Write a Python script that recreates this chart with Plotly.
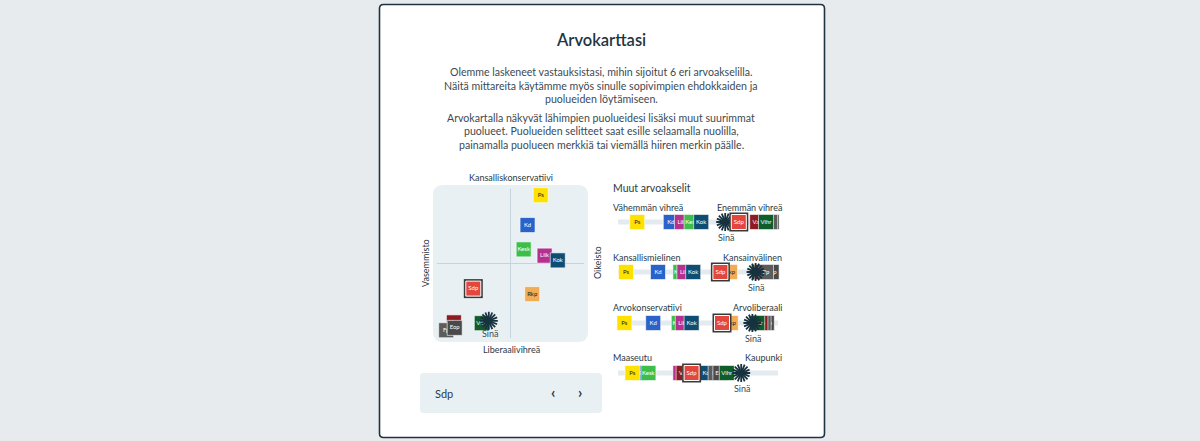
import plotly.graph_objects as go

W, H = 1200, 441
FONT = "Lato"

# ---------------- data ----------------
parties = ["Ps", "Kd", "Kesk", "Liik", "Kok", "Rkp", "Sdp", "Vihr", "Vas", "Eop", "Fp"]
party_colors = {
    "Ps": "#ffe100", "Kd": "#2a62c9", "Kesk": "#3cbf4a", "Liik": "#b5308f",
    "Kok": "#0f4d73", "Rkp": "#f0ad55", "Sdp": "#e2463d", "Vihr": "#0f5e2a",
    "Vas": "#8c1b22", "Eop": "#4a4a4a", "Fp": "#5c5c5c",
}
dark_text = {"Ps", "Rkp"}
selected = "Sdp"

# value map (x: vasemmisto -> oikeisto, y: liberaalivihreä -> kansalliskonservatiivi)
map_x = {"Ps": 0.39, "Kd": 0.22, "Kesk": 0.17, "Liik": 0.44, "Kok": 0.61, "Rkp": 0.28,
         "Sdp": -0.48, "Vihr": -0.37, "Vas": -0.73, "Eop": -0.72, "Fp": -0.83}
map_y = {"Ps": 0.87, "Kd": 0.49, "Kesk": 0.18, "Liik": 0.10, "Kok": 0.04, "Rkp": -0.39,
         "Sdp": -0.32, "Vihr": -0.76, "Vas": -0.75, "Eop": -0.82, "Fp": -0.85}
map_order = ["Ps", "Kd", "Kesk", "Liik", "Kok", "Rkp", "Sdp", "Vas", "Fp", "Eop", "Vihr"]
you_map = (-0.28, -0.73)

slider_left = ["Vähemmän vihreä", "Kansallismielinen", "Arvokonservatiivi", "Maaseutu"]
slider_right = ["Enemmän vihreä", "Kansainvälinen", "Arvoliberaali", "Kaupunki"]
slider_values = [
    {"Ps": 12, "Kd": 33, "Liik": 40, "Kesk": 46, "Kok": 52, "Rkp": 75, "Sdp": 75.5,
     "Vas": 87, "Eop": 96, "Fp": 95, "Vihr": 92.5},
    {"Ps": 5, "Kd": 25, "Kesk": 39, "Liik": 41.5, "Kok": 47, "Rkp": 70, "Sdp": 64,
     "Vihr": 88, "Vas": 90, "Fp": 92.5, "Eop": 96},
    {"Ps": 4, "Kd": 22, "Kesk": 38, "Liik": 40.5, "Kok": 46, "Rkp": 70.5, "Sdp": 65,
     "Vihr": 87, "Vas": 89, "Fp": 91, "Eop": 93},
    {"Ps": 9, "Kd": 14.5, "Kesk": 19, "Liik": 39, "Vas": 41, "Rkp": 45, "Sdp": 46,
     "Kok": 56, "Fp": 61, "Eop": 64, "Vihr": 68},
]
slider_orders = [
    ["Ps", "Kd", "Liik", "Kesk", "Kok", "Rkp", "Sdp", "Vas", "Eop", "Fp", "Vihr"],
    ["Ps", "Kd", "Kesk", "Liik", "Kok", "Rkp", "Sdp", "Vihr", "Vas", "Eop", "Fp"],
    ["Ps", "Kd", "Kesk", "Liik", "Kok", "Rkp", "Sdp", "Eop", "Fp", "Vas", "Vihr"],
    ["Kd", "Ps", "Kesk", "Liik", "Vas", "Rkp", "Sdp", "Kok", "Fp", "Eop", "Vihr"],
]
you_slider = [67, 86, 84, 77]
star_below_sdp = [True, False, False, False]

# ---------------- layout helpers ----------------
def px(x): return x / W
def py(y): return 1 - y / H

def rrect(x0, y0, x1, y1, r):
    pts = [("M", x0 + r, y0), ("L", x1 - r, y0), ("Q", x1, y0, x1, y0 + r),
           ("L", x1, y1 - r), ("Q", x1, y1, x1 - r, y1), ("L", x0 + r, y1),
           ("Q", x0, y1, x0, y1 - r), ("L", x0, y0 + r), ("Q", x0, y0, x0 + r, y0)]
    s = ""
    for p in pts:
        cmd = p[0]
        coords = p[1:]
        parts = []
        for i in range(0, len(coords), 2):
            parts.append(f"{px(coords[i]):.5f},{py(coords[i+1]):.5f}")
        s += cmd + " " + " ".join(parts) + " "
    return s + "Z"

fig = go.Figure()

def badge(name, x, y, xa, ya):
    if name == selected:
        fig.add_trace(go.Scatter(x=[x], y=[y], xaxis=xa, yaxis=ya, mode="markers",
                                 marker=dict(symbol="square", size=19, color="#3a3a3a",
                                             line=dict(width=0)),
                                 hoverinfo="skip", showlegend=False, cliponaxis=False))
    fig.add_trace(go.Scatter(
        x=[x], y=[y], xaxis=xa, yaxis=ya, mode="markers+text", text=[name],
        textposition="middle center",
        textfont=dict(family=FONT, size=6, color="#1a1a1a" if name in dark_text else "white"),
        marker=dict(symbol="square", size=15, color=party_colors[name],
                    line=dict(width=1 if name == selected else 0.6, color="white")),
        hoverinfo="skip", showlegend=False, cliponaxis=False))

def star(x, y, xa, ya):
    for ang in (0, 22.5):
        fig.add_trace(go.Scatter(
            x=[x], y=[y], xaxis=xa, yaxis=ya, mode="markers",
            marker=dict(symbol="asterisk-open", size=15, angle=ang, color="#17323f",
                        line=dict(width=1.8, color="#17323f")),
            hoverinfo="skip", showlegend=False, cliponaxis=False))

# map badges
for p in map_order:
    badge(p, map_x[p], map_y[p], "x", "y")
star(you_map[0], you_map[1], "x", "y")

# slider badges
slider_rows = [222, 272, 323, 373]
for i, row in enumerate(slider_rows):
    vals = slider_values[i]
    for p in slider_orders[i]:
        if p == "Sdp":
            continue
        badge(p, vals[p], row, "x2", "y2")
    if star_below_sdp[i]:
        star(you_slider[i], row, "x2", "y2")
        badge("Sdp", vals["Sdp"], row, "x2", "y2")
    else:
        badge("Sdp", vals["Sdp"], row, "x2", "y2")
        star(you_slider[i], row, "x2", "y2")

shapes = [
    dict(type="path", path=rrect(379.5, 4.5, 824.5, 437.5, 4), xref="paper", yref="paper",
         fillcolor="white", line=dict(color="#1e3442", width=1.6), layer="below"),
    dict(type="path", path=rrect(433, 185, 588, 342, 10), xref="paper", yref="paper",
         fillcolor="#e8f0f3", line=dict(width=0), layer="below"),
    dict(type="path", path=rrect(420, 373, 602, 413, 4), xref="paper", yref="paper",
         fillcolor="#e9f0f3", line=dict(width=0), layer="below"),
    dict(type="line", xref="x", yref="y", x0=0, x1=0, y0=-0.95, y1=0.95,
         line=dict(color="#c3d4db", width=1), layer="below"),
    dict(type="line", xref="x", yref="y", x0=-0.95, x1=0.95, y0=0, y1=0,
         line=dict(color="#c3d4db", width=1), layer="below"),
]
for row in slider_rows:
    shapes.append(dict(type="line", xref="paper", yref="paper", x0=px(618), x1=px(778),
                       y0=py(row), y1=py(row), line=dict(color="#e4ebef", width=5),
                       layer="below"))

ann = []
def text(t, x, y, size, color="#2b3a44", xanchor="center", angle=0, weight=None):
    f = dict(family=FONT, size=size, color=color)
    if weight:
        f["weight"] = weight
    ann.append(dict(text=t, x=px(x), y=py(y), xref="paper", yref="paper", showarrow=False,
                    xanchor=xanchor, yanchor="middle", font=f, textangle=angle))

text("Arvokarttasi", 601, 40, 16.5, "#1f3542", weight=600)
para = [
    ("Olemme laskeneet vastauksistasi, mihin sijoitut 6 eri arvoakselilla.", 72),
    ("Näitä mittareita käytämme myös sinulle sopivimpien ehdokkaiden ja", 86),
    ("puolueiden löytämiseen.", 99),
    ("Arvokartalla näkyvät lähimpien puolueidesi lisäksi muut suurimmat", 118),
    ("puolueet. Puolueiden selitteet saat esille selaamalla nuolilla,", 131),
    ("painamalla puolueen merkkiä tai viemällä hiiren merkin päälle.", 145),
]
for t, y in para:
    text(t, 601, y, 10.6, "#3c4a54")

text("Kansalliskonservatiivi", 511, 177, 9)
text("Liberaalivihreä", 511, 349, 9)
text("Vasemmisto", 425, 263, 9, angle=-90)
text("Oikeisto", 597, 263, 9, angle=-90)
text("Sinä", 490, 333, 9, "#3b4a54")

text("Muut arvoakselit", 611, 188, 10.5, xanchor="left")
label_rows = [207, 257, 307, 357]
for i, y in enumerate(label_rows):
    text(slider_left[i], 611, y, 9, xanchor="left")
    text(slider_right[i], 784, y, 9, xanchor="right")
    sx = 618 + you_slider[i] / 100 * 160
    text("Sinä", sx + 1, slider_rows[i] + 15, 9, "#3b4a54")

text("Sdp", 433, 393, 11, "#2b3a44", xanchor="left")
text("‹", 553, 392, 15, "#2b3a44", weight="bold")
text("›", 580, 392, 15, "#2b3a44", weight="bold")

ax_common = dict(visible=False, fixedrange=True, showgrid=False, zeroline=False)
fig.update_layout(
    width=W, height=H, margin=dict(l=0, r=0, t=0, b=0),
    paper_bgcolor="#e8ebee", plot_bgcolor="rgba(0,0,0,0)",
    xaxis=dict(domain=[px(433), px(588)], range=[-1, 1], **ax_common),
    yaxis=dict(domain=[py(342), py(185)], range=[-1, 1], **ax_common),
    xaxis2=dict(domain=[px(618), px(778)], range=[0, 100], anchor="y2", **ax_common),
    yaxis2=dict(domain=[0, 1], range=[H, 0], anchor="x2", **ax_common),
    shapes=shapes, annotations=ann, showlegend=False,
)

fig.write_html("out.html", config={"displayModeBar": False},
               post_script="document.body.style.margin='0px';")
